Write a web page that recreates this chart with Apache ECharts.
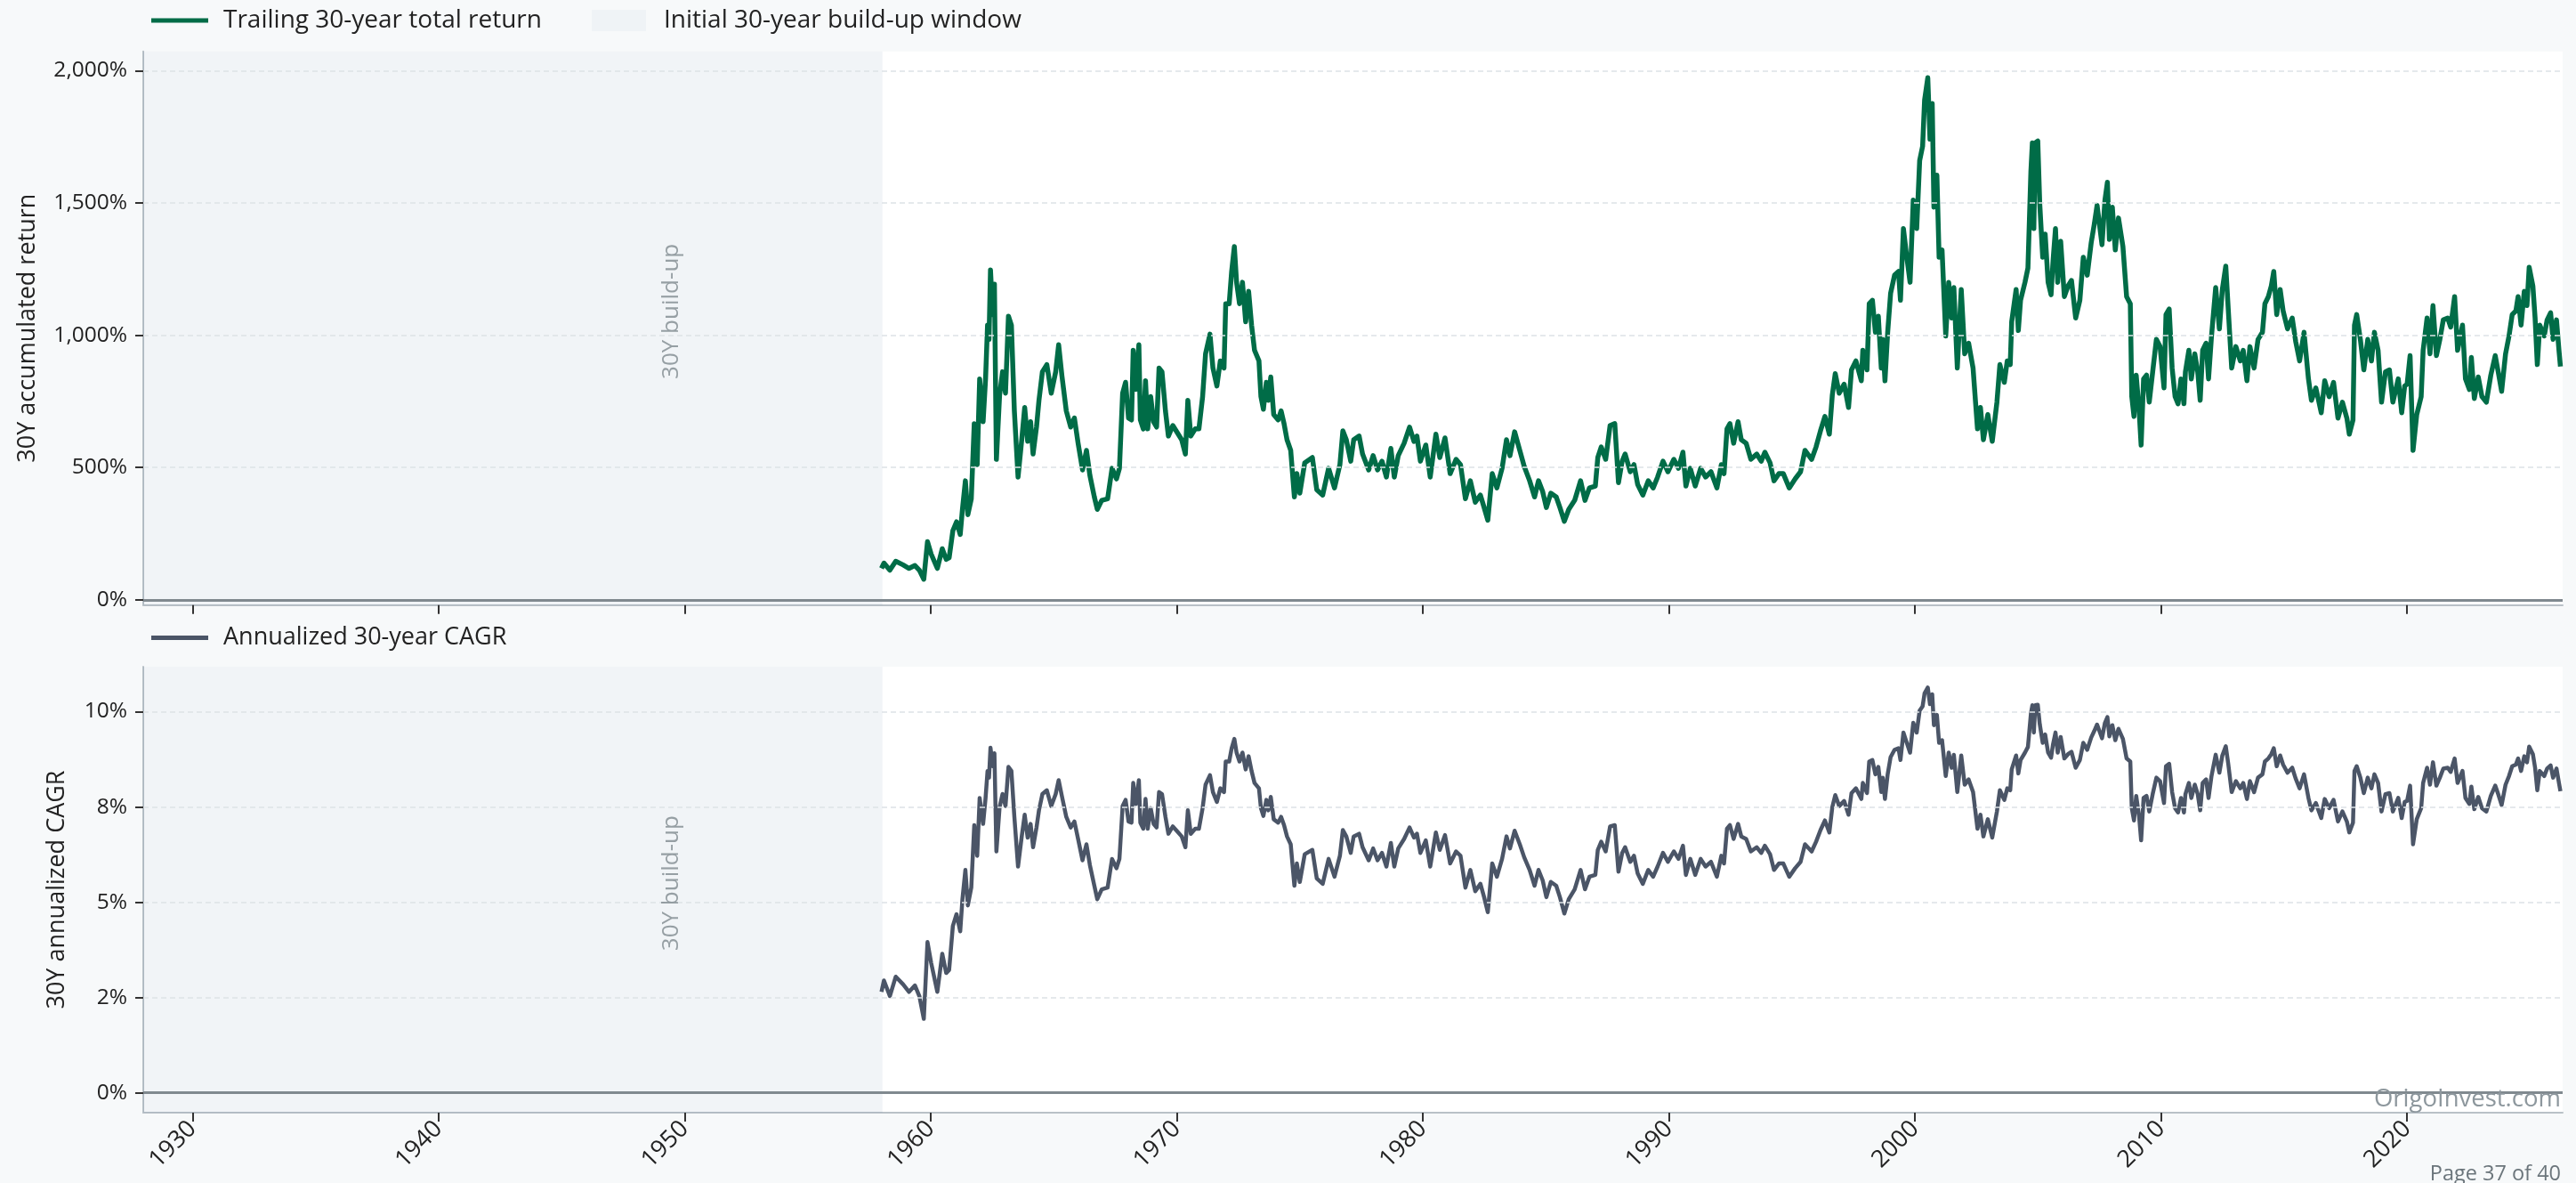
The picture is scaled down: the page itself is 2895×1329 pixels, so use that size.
<!DOCTYPE html>
<html>
<head>
<meta charset="utf-8">
<script src="https://cdn.jsdelivr.net/npm/echarts@6/dist/echarts.min.js"></script>
<style>
html,body{margin:0;padding:0;background:#f7f9fa;}
#c{width:2895px;height:1329px;}
</style>
</head>
<body>
<div id="c"></div>
<script>
// ---- data ----
const years = [
1958.00,1958.10,1958.34,1958.58,1958.88,1959.12,1959.36,1959.54,1959.72,1959.87,
1960.02,1960.27,1960.47,1960.63,1960.75,1960.90,1961.05,1961.20,1961.29,1961.41,
1961.51,1961.65,1961.77,1961.89,1961.99,1962.13,1962.23,1962.31,1962.37,1962.43,
1962.52,1962.59,1962.67,1962.80,1962.92,1963.04,1963.16,1963.28,1963.40,1963.55,
1963.70,1963.82,1963.94,1964.06,1964.16,1964.30,1964.40,1964.54,1964.72,1964.90,
1965.08,1965.20,1965.33,1965.51,1965.69,1965.84,1965.99,1966.17,1966.33,1966.47,
1966.65,1966.77,1966.95,1967.19,1967.37,1967.55,1967.67,1967.80,1967.92,1968.04,
1968.16,1968.23,1968.34,1968.46,1968.52,1968.64,1968.73,1968.82,1968.94,1969.06,
1969.18,1969.28,1969.40,1969.54,1969.66,1969.84,1970.02,1970.20,1970.35,1970.45,
1970.57,1970.75,1970.90,1971.05,1971.17,1971.35,1971.47,1971.63,1971.77,1971.92,
1971.99,1972.13,1972.23,1972.34,1972.43,1972.55,1972.67,1972.80,1972.92,1973.04,
1973.16,1973.34,1973.42,1973.52,1973.64,1973.72,1973.82,1973.94,1974.12,1974.24,
1974.36,1974.48,1974.63,1974.78,1974.88,1975.00,
1975.20,1975.51,1975.69,1975.93,1976.17,1976.41,1976.63,1976.75,1976.89,1977.07,
1977.19,1977.41,1977.55,1977.80,1977.98,1978.16,1978.34,1978.52,1978.70,1978.84,
1979.00,1979.24,1979.46,1979.64,1979.76,1979.90,1980.12,1980.30,1980.53,1980.69,
1980.90,1981.11,1981.35,1981.53,1981.73,1981.93,1982.13,1982.34,1982.49,1982.64,
1982.82,1983.01,1983.22,1983.40,1983.54,1983.73,1983.94,1984.12,1984.34,1984.54,
1984.70,1984.87,1985.02,1985.20,1985.42,1985.57,1985.75,1985.93,1986.17,1986.41,
1986.59,1986.77,1987.01,1987.11,1987.25,1987.43,1987.61,1987.80,1987.95,1988.10,
1988.22,1988.43,1988.58,1988.73,1988.94,1989.16,1989.36,1989.54,1989.76,1989.96,
1990.20,1990.39,1990.57,1990.69,1990.87,1991.07,1991.29,1991.49,1991.71,1991.95,
1992.13,
1992.24,1992.36,1992.48,1992.63,1992.81,1992.94,1993.14,1993.33,1993.57,1993.75,
1993.90,1994.11,1994.27,1994.47,1994.65,1994.89,1995.13,1995.35,1995.53,1995.80,
1995.98,1996.16,1996.34,1996.52,1996.64,1996.76,1996.92,1997.12,1997.30,1997.42,
1997.60,1997.82,1997.88,1998.05,1998.14,1998.27,1998.39,1998.51,1998.63,1998.69,
1998.78,1998.89,1999.01,1999.17,1999.33,1999.41,1999.53,1999.65,1999.80,1999.93,
2000.07,2000.19,2000.31,2000.39,2000.52,2000.61,2000.70,2000.77,2000.89,2000.98,
2001.10,2001.25,2001.37,2001.49,2001.58,2001.72,2001.88,2002.02,2002.18,2002.36,
2002.54,2002.66,2002.78,2002.96,2003.14,2003.33,2003.45,2003.63,2003.75,2003.87,
2003.93,2004.11,2004.20,2004.29,2004.47,2004.59,2004.71,2004.77,2004.83,2004.89,
2004.99,2005.07,2005.19,2005.29,2005.41,2005.53,2005.61,2005.71,2005.80,2005.92,
2006.07,2006.22,2006.36,2006.53,2006.70,2006.84,2007.00,2007.16,2007.28,2007.40,
2007.60,2007.72,2007.82,2007.90,2008.02,2008.14,2008.27,2008.45,2008.60,2008.75,
2008.81,2008.90,2008.99,2009.11,2009.19,2009.29,2009.41,
2009.52,2009.66,2009.81,2009.96,2010.12,2010.20,2010.33,2010.45,2010.57,2010.69,
2010.81,2010.93,2010.99,2011.13,2011.23,2011.37,2011.49,2011.59,2011.69,2011.83,
2011.93,2012.05,2012.22,2012.37,2012.49,2012.63,2012.73,2012.87,2013.04,2013.22,
2013.34,2013.49,2013.61,2013.78,2013.94,2014.12,2014.22,2014.36,2014.48,2014.58,
2014.70,2014.84,2014.96,2015.14,2015.33,2015.47,2015.63,2015.81,2015.99,2016.11,
2016.29,2016.51,2016.65,2016.83,2017.01,2017.19,2017.37,2017.55,2017.65,2017.80,
2017.86,2017.95,2018.10,2018.24,2018.40,2018.55,2018.67,2018.82,2018.96,2019.12,
2019.28,2019.42,2019.64,2019.78,2019.90,2020.00,2020.12,2020.24,2020.39,2020.57,
2020.65,2020.81,2020.93,2021.05,2021.19,2021.33,2021.47,2021.65,2021.77,2021.93,
2022.05,2022.25,2022.37,2022.53,2022.61,2022.73,2022.89,2023.04,2023.22,2023.40,
2023.58,2023.70,2023.84,2024.00,2024.14,2024.27,2024.42,2024.51,2024.63,2024.76,
2024.87,2024.96,2025.11,2025.20,2025.29,2025.39,2025.57,2025.69,2025.83,2025.93,
2026.07,2026.17,2026.23
];
const totalReturn = [
119,139,112,146,132,119,130,112,78,220,
173,119,193,153,159,261,295,247,342,450,
322,382,666,511,835,673,835,1038,984,1247,
1078,1193,531,774,862,781,1072,1038,714,464,
605,727,599,673,551,653,754,862,889,781,
862,964,849,714,653,687,592,491,565,470,
389,342,376,382,497,457,497,781,822,687,
680,943,795,964,680,646,828,646,768,673,
653,876,862,714,619,659,632,605,551,754,
619,646,646,768,930,1004,876,808,903,876,
1119,1119,1241,1335,1200,1119,1200,1051,1166,1038,
943,903,768,720,822,754,842,700,680,714,
666,605,565,389,477,403,
518,538,416,396,497,423,511,639,605,524,
605,619,551,491,545,491,524,464,572,464,
545,592,653,599,619,524,585,464,626,538,
612,477,531,511,382,450,369,396,349,301,
477,423,497,605,545,635,565,504,450,389,
450,409,349,403,389,349,297,342,376,450,
376,423,430,538,578,531,659,666,443,524,
551,484,511,436,396,450,423,464,524,484,
531,497,558,430,497,430,497,464,484,423,
511,
477,646,666,592,673,605,592,531,551,524,
558,518,450,477,477,423,457,484,565,531,
578,639,693,626,774,855,781,815,727,869,
903,828,943,869,1119,1132,1011,1072,876,984,
828,1011,1159,1227,1241,1132,1403,1308,1200,1511,
1403,1660,1714,1889,1973,1741,1876,1484,1605,1295,
1322,997,1200,1065,1180,876,1173,930,970,876,
646,727,605,700,599,747,889,822,903,889,
1051,1173,1018,1132,1200,1254,1619,1727,1403,1727,
1734,1497,1295,1382,1200,1153,1281,1403,1200,1355,
1146,1186,1207,1065,1132,1295,1227,1349,1416,1491,
1342,1511,1578,1362,1484,1322,1443,1335,1146,1119,
768,693,849,714,585,835,849,
747,862,984,957,801,1078,1099,876,768,741,
835,741,862,943,835,930,862,754,943,970,
835,997,1180,1024,1173,1261,1099,876,957,903,
943,828,957,876,984,1011,1119,1146,1186,1241,
1078,1173,1092,1024,1065,977,903,1011,835,754,
801,707,828,768,822,687,747,687,626,680,
1038,1078,984,869,984,903,1011,943,747,862,
869,747,835,707,808,815,923,565,700,768,
943,1065,930,1112,923,984,1058,1065,1031,1146,
943,1038,835,795,916,761,842,768,747,849,
923,862,788,930,997,1078,1092,1146,1038,1166,
1112,1257,1186,1065,889,1038,997,1058,1085,984,
1058,943,882
];
const yearTicks = [1930,1940,1950,1960,1970,1980,1990,2000,2010,2020];
const returnTicks = [0,500,1000,1500,2000];
const cagrTicks = [0,2.5,5,7.5,10];
const buildUpWindow = [1928.0, 1958.04];
const buildUpLabelYear = 1949.45;

// annualised 30-year CAGR derived from the accumulated return values
const cagr = totalReturn.map(r => (Math.pow(1 + r / 100, 1 / 30) - 1) * 100);

const returnData = years.map((y, i) => [y, totalReturn[i]]);
const cagrData = years.map((y, i) => [y, cagr[i]]);

// ---- styling ----
const FONT = '"Open Sans", "DejaVu Sans", sans-serif';
const TXT = '#222222';
const GREEN = '#006c47';
const SLATE = '#4b5567';
const SHADE_LEGEND = '#eff3f6';
const SHADE = 'rgba(0,55,109,0.055)';
const SPINE = '#b9c1c7';
const GRIDC = '#dde2e6';
const ZERO = '#80898f';

function roundHalfEven(v) {
  const f = Math.floor(v), d = v - f;
  if (Math.abs(d - 0.5) < 1e-9) return (f % 2 === 0) ? f : f + 1;
  return Math.round(v);
}

const xBase = (gi, showLabels) => ({
  type: 'value', gridIndex: gi, min: 1928.0, max: 2026.32,
  splitLine: { show: false },
  axisLine: { show: true, onZero: false, lineStyle: { color: SPINE, width: 2 } },
  axisTick: { show: true, customValues: yearTicks, length: 10, lineStyle: { color: '#333', width: 2 } },
  axisLabel: showLabels ? {
    show: true, customValues: yearTicks, rotate: 45, margin: 14,
    fontSize: 27, fontFamily: FONT, color: TXT, formatter: v => String(v)
  } : { show: false }
});

const gridLineSeries = (xi, ticks) => ({
  type: 'line', xAxisIndex: xi, yAxisIndex: xi, data: [], z: 2, silent: true,
  markLine: {
    silent: true, symbol: ['none', 'none'], label: { show: false },
    lineStyle: { color: GRIDC, width: 1.5, type: [6, 4] },
    emphasis: { disabled: true },
    data: ticks.map(v => ({ yAxis: v }))
  }
});

const zeroSeries = (xi) => ({
  type: 'line', xAxisIndex: xi, yAxisIndex: xi, data: [], z: 4, silent: true,
  markLine: {
    silent: true, symbol: ['none', 'none'], label: { show: false },
    lineStyle: { color: ZERO, width: 3, type: 'solid' },
    emphasis: { disabled: true },
    data: [{ yAxis: 0 }]
  }
});

const shadeSeries = (xi, name) => ({
  type: 'line', name: name, xAxisIndex: xi, yAxisIndex: xi, data: [], z: 1, silent: true,
  itemStyle: { color: SHADE_LEGEND }, lineStyle: { color: SHADE_LEGEND },
  markArea: {
    silent: true, itemStyle: { color: SHADE },
    emphasis: { disabled: true },
    data: [[{ xAxis: buildUpWindow[0] }, { xAxis: buildUpWindow[1] }]]
  }
});

const labelSeries = (xi, yv) => ({
  type: 'scatter', xAxisIndex: xi, yAxisIndex: xi, z: 5, silent: true,
  symbolSize: 0, data: [[buildUpLabelYear, yv]],
  label: { show: true, position: 'inside', rotate: 90, formatter: '30Y build-up',
           fontSize: 26, fontFamily: FONT, color: '#80898f' }
});

const chart = echarts.init(document.getElementById('c'), null, { renderer: 'canvas' });
chart.setOption({
  backgroundColor: '#f7f9fa',
  animation: false,
  textStyle: { fontFamily: FONT },
  grid: [
    { left: 161, right: 15, top: 57.7, height: 622, show: true, backgroundColor: '#ffffff', borderWidth: 0 },
    { left: 161, right: 15, top: 749, height: 501, show: true, backgroundColor: '#ffffff', borderWidth: 0 }
  ],
  legend: [
    { left: 165, top: 4, selectedMode: false, itemWidth: 64, itemHeight: 5,
      data: [{ name: 'Trailing 30-year total return', icon: 'rect' }],
      textStyle: { fontSize: 28, color: TXT, fontFamily: FONT, padding: [0, 0, 0, 12] } },
    { left: 660, top: 4, selectedMode: false, itemWidth: 61, itemHeight: 24,
      data: [{ name: 'Initial 30-year build-up window', icon: 'rect' }],
      textStyle: { fontSize: 28, color: TXT, fontFamily: FONT, padding: [0, 0, 0, 15] } },
    { left: 165, top: 698, selectedMode: false, itemWidth: 64, itemHeight: 5,
      data: [{ name: 'Annualized 30-year CAGR', icon: 'rect' }],
      textStyle: { fontSize: 27, color: TXT, fontFamily: FONT, padding: [0, 0, 0, 12] } }
  ],
  xAxis: [xBase(0, false), xBase(1, true)],
  yAxis: [
    { type: 'value', gridIndex: 0, min: -19.5, max: 2072.6,
      splitLine: { show: false },
      axisLine: { show: true, onZero: false, lineStyle: { color: SPINE, width: 2 } },
      axisTick: { show: true, customValues: returnTicks, length: 9, lineStyle: { color: '#333', width: 2 } },
      axisLabel: { customValues: returnTicks, margin: 18, fontSize: 24.5, fontFamily: FONT, color: TXT,
                   formatter: v => Number(v).toLocaleString('en-US') + '%' },
      name: '30Y accumulated return', nameLocation: 'middle', nameGap: 116,
      nameTextStyle: { fontSize: 27, fontFamily: FONT, color: TXT } },
    { type: 'value', gridIndex: 1, min: -0.523, max: 11.18,
      splitLine: { show: false },
      axisLine: { show: true, onZero: false, lineStyle: { color: SPINE, width: 2 } },
      axisTick: { show: true, customValues: cagrTicks, length: 9, lineStyle: { color: '#333', width: 2 } },
      axisLabel: { customValues: cagrTicks, margin: 18, fontSize: 24.5, fontFamily: FONT, color: TXT,
                   formatter: v => roundHalfEven(Number(v)) + '%' },
      name: '30Y annualized CAGR', nameLocation: 'middle', nameGap: 83,
      nameTextStyle: { fontSize: 27, fontFamily: FONT, color: TXT } }
  ],
  series: [
    shadeSeries(0, 'Initial 30-year build-up window'),
    shadeSeries(1, 'build-up (lower)'),
    gridLineSeries(0, returnTicks),
    gridLineSeries(1, cagrTicks),
    { type: 'line', name: 'Trailing 30-year total return', xAxisIndex: 0, yAxisIndex: 0, z: 3,
      data: returnData, showSymbol: false, symbol: 'none', silent: true,
      itemStyle: { color: GREEN }, lineStyle: { color: GREEN, width: 5.5, join: 'round' } },
    { type: 'line', name: 'Annualized 30-year CAGR', xAxisIndex: 1, yAxisIndex: 1, z: 3,
      data: cagrData, showSymbol: false, symbol: 'none', silent: true,
      itemStyle: { color: SLATE }, lineStyle: { color: SLATE, width: 4.5, join: 'round' } },
    zeroSeries(0),
    zeroSeries(1),
    labelSeries(0, 1090),
    labelSeries(1, 5.5)
  ],
  graphic: [
    { type: 'text', right: 17, top: 1221, z: 100, silent: true,
      style: { text: 'OrigoInvest.com', font: '27.5px "Open Sans"', fill: '#8d979d' } },
    { type: 'text', right: 17, top: 1307, z: 100, silent: true,
      style: { text: 'Page 37 of 40', font: '23.5px "Open Sans"', fill: '#6b757b' } }
  ]
});
</script>
</body>
</html>
